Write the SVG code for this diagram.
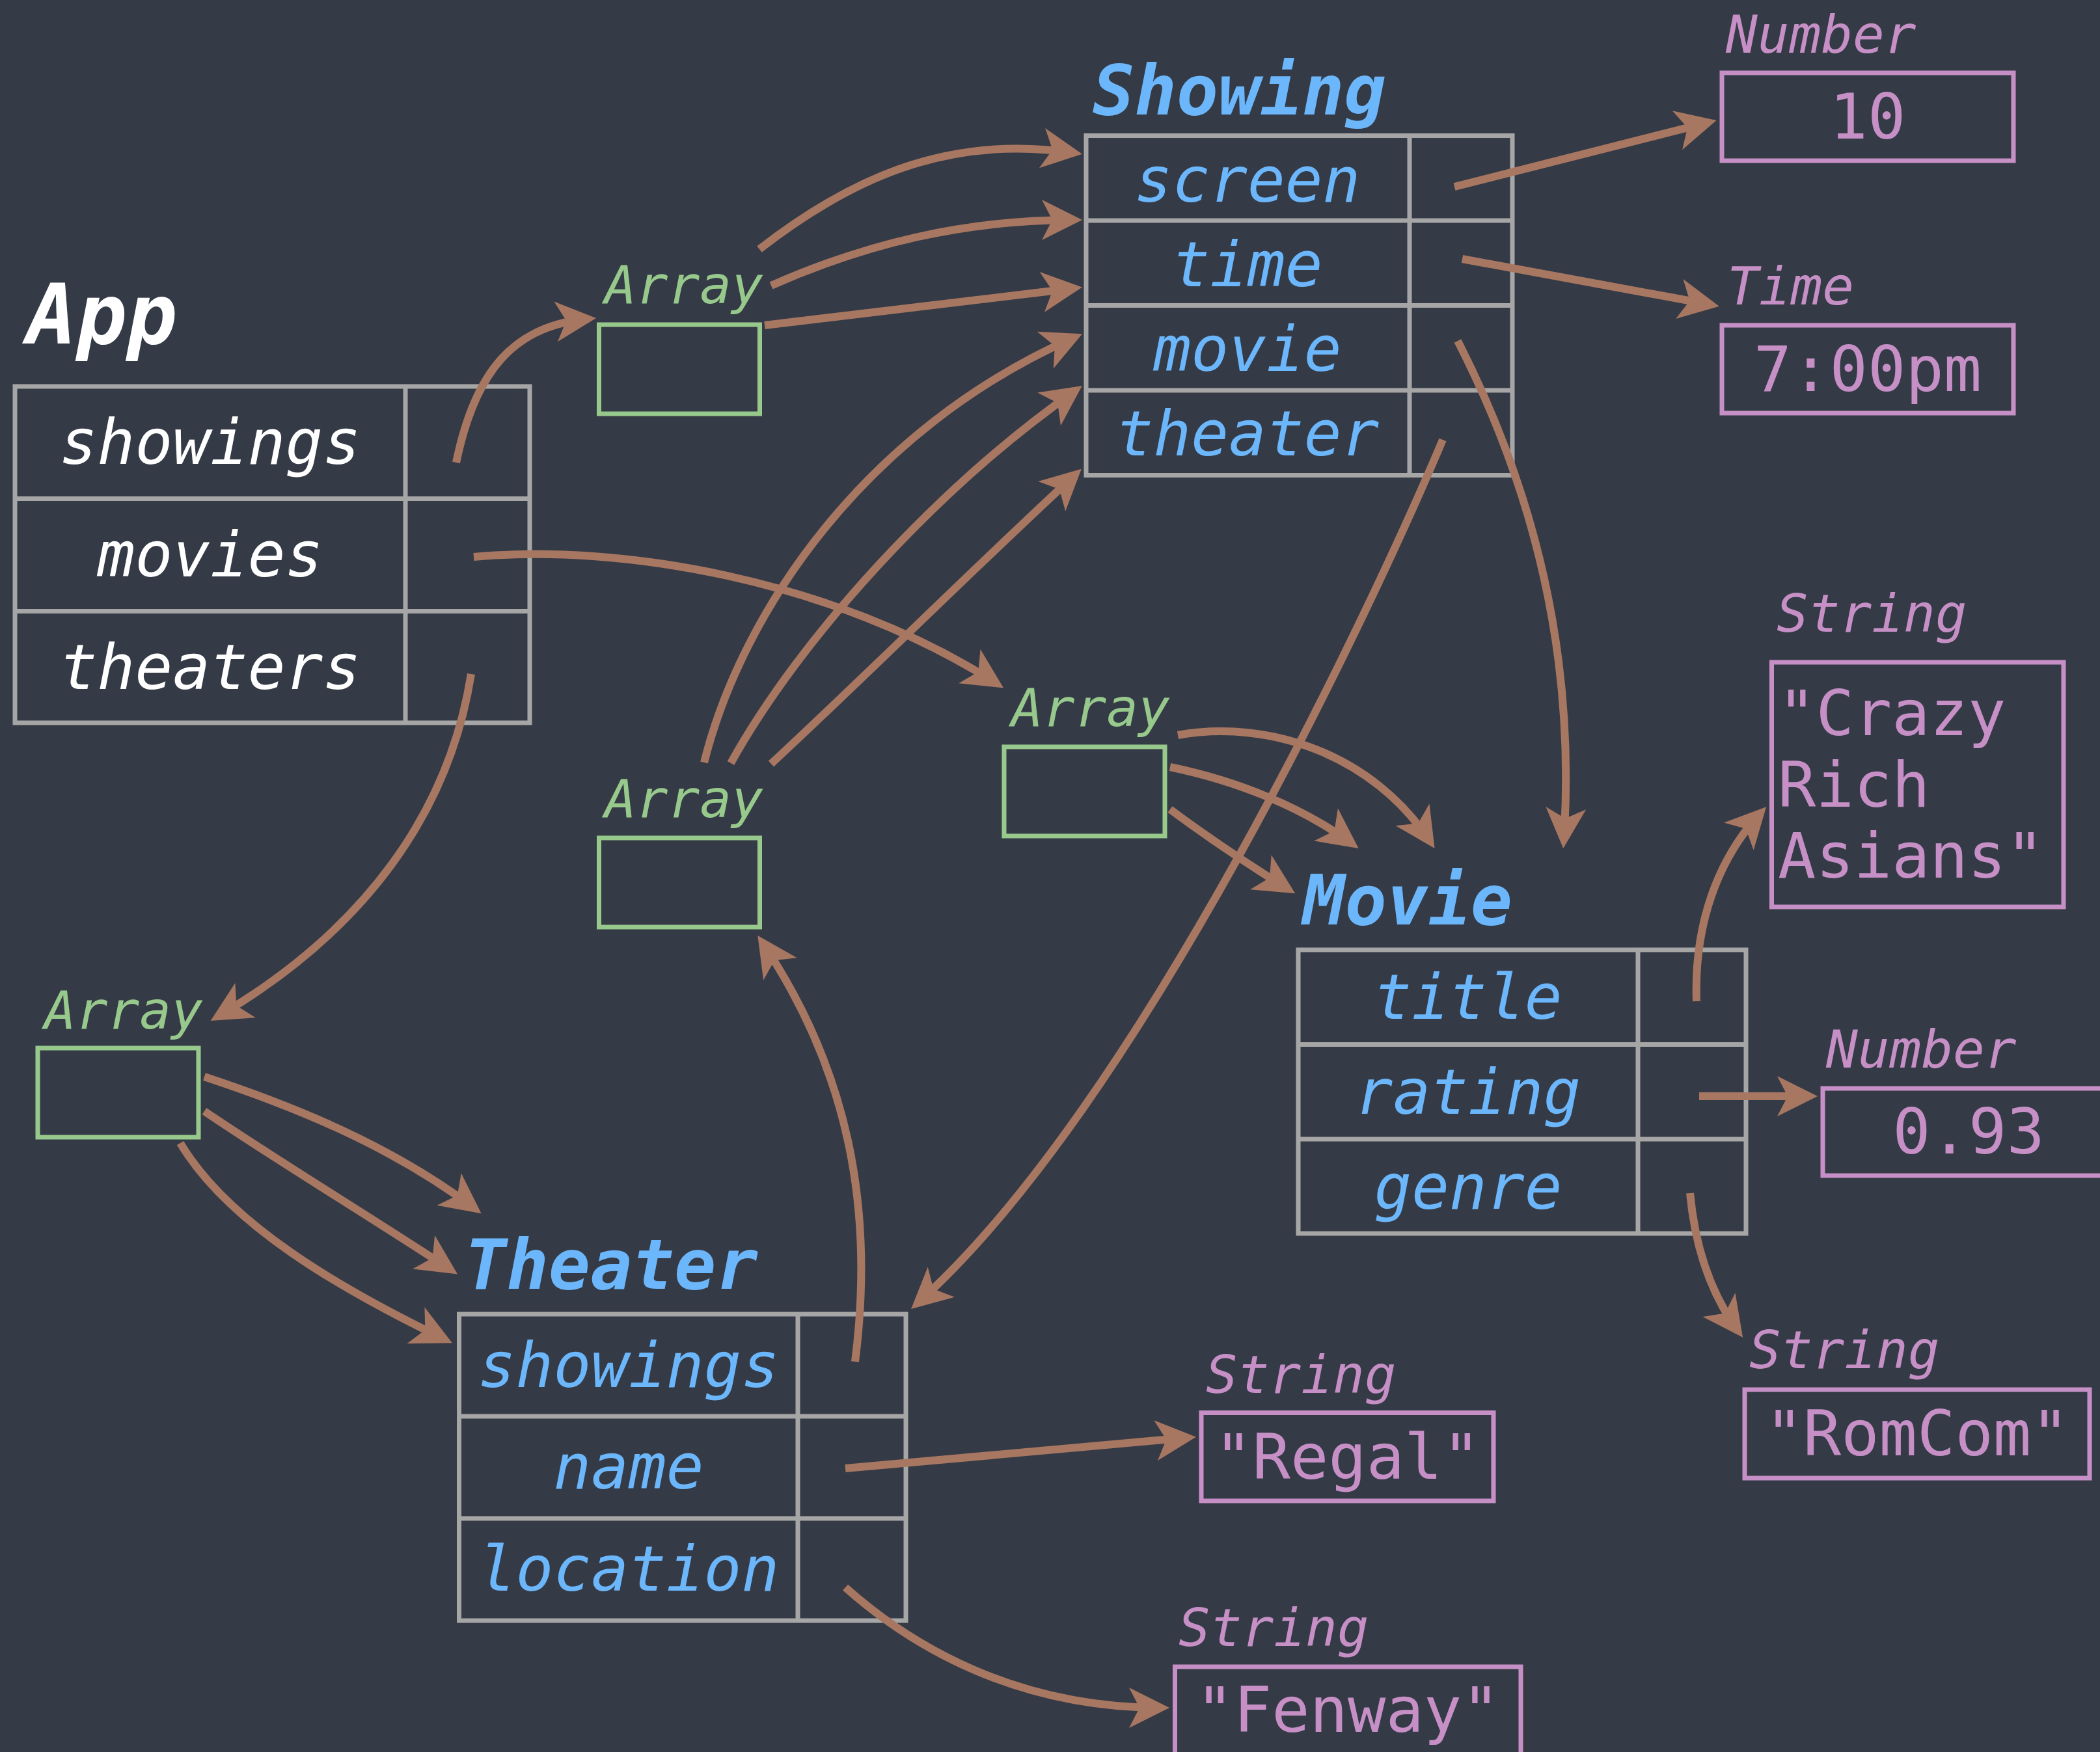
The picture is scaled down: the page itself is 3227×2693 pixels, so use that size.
<svg xmlns="http://www.w3.org/2000/svg" width="3227" height="2693" viewBox="0 0 3227 2693">
<style>
.bg{fill:#353b46}
.tbl{fill:none;stroke:#a6a6a6;stroke-width:7}
.arr{fill:none;stroke:#98c98c;stroke-width:7}
.val{fill:none;stroke:#c690c6;stroke-width:7}
.title{font-family:"DejaVu Sans Mono",monospace;font-style:italic;font-weight:bold;font-size:107px;fill:#6cb6fb}
.apptitle{font-family:"DejaVu Sans Mono",monospace;font-style:italic;font-weight:bold;font-size:128px;fill:#ffffff}
.fld{font-family:"DejaVu Sans Mono",monospace;font-style:italic;font-size:96px;fill:#6cb6fb;text-anchor:middle}
.appfld{font-family:"DejaVu Sans Mono",monospace;font-style:italic;font-size:96px;fill:#ffffff;text-anchor:middle}
.alabel{font-family:"DejaVu Sans Mono",monospace;font-style:italic;font-size:81px;fill:#98c98c}
.tlabel{font-family:"DejaVu Sans Mono",monospace;font-style:italic;font-size:81px;fill:#c690c6}
.vtxt{font-family:"DejaVu Sans Mono",monospace;font-size:97px;fill:#c690c6}
.c{text-anchor:middle}
.edge{fill:none;stroke:#a87762;stroke-width:12;marker-end:url(#ah)}
</style>
<defs>
<marker id="ah" markerUnits="userSpaceOnUse" markerWidth="80" markerHeight="80" viewBox="-60 -40 80 80" refX="0" refY="0" orient="auto" overflow="visible">
<path d="M12,0 L-50,-31 L-34,0 L-50,31 Z" fill="#a87762"/>
</marker>
</defs>
<rect class="bg" x="0" y="0" width="3227" height="2693"/>

<g id="app">
<text class="apptitle" x="41" y="528">App</text>
<rect class="tbl" x="23" y="594" width="791" height="517"/>
<line class="tbl" x1="623" y1="594" x2="623" y2="1111"/>
<line class="tbl" x1="23" y1="766.5" x2="814" y2="766.5"/>
<line class="tbl" x1="23" y1="939.5" x2="814" y2="939.5"/>
<text class="appfld" x="323" y="713">showings</text>
<text class="appfld" x="323" y="886">movies</text>
<text class="appfld" x="323" y="1059">theaters</text>
</g>

<g id="showing">
<text class="title" x="1679" y="176">Showing</text>
<rect class="tbl" x="1669" y="208.5" width="655" height="522"/>
<line class="tbl" x1="2166" y1="208.5" x2="2166" y2="730.5"/>
<line class="tbl" x1="1669" y1="339" x2="2324" y2="339"/>
<line class="tbl" x1="1669" y1="469.5" x2="2324" y2="469.5"/>
<line class="tbl" x1="1669" y1="600" x2="2324" y2="600"/>
<text class="fld" x="1917" y="310">screen</text>
<text class="fld" x="1917" y="440">time</text>
<text class="fld" x="1917" y="570">movie</text>
<text class="fld" x="1917" y="700">theater</text>
</g>

<g id="movie">
<text class="title" x="2002" y="1421">Movie</text>
<rect class="tbl" x="1995" y="1460" width="688" height="436"/>
<line class="tbl" x1="2517" y1="1460" x2="2517" y2="1896"/>
<line class="tbl" x1="1995" y1="1605.5" x2="2683" y2="1605.5"/>
<line class="tbl" x1="1995" y1="1751" x2="2683" y2="1751"/>
<text class="fld" x="2256" y="1566">title</text>
<text class="fld" x="2256" y="1712">rating</text>
<text class="fld" x="2256" y="1858">genre</text>
</g>

<g id="theater">
<text class="title" x="714" y="1981">Theater</text>
<rect class="tbl" x="705.5" y="2020" width="686.5" height="471"/>
<line class="tbl" x1="1226" y1="2020" x2="1226" y2="2491"/>
<line class="tbl" x1="705.5" y1="2177" x2="1392" y2="2177"/>
<line class="tbl" x1="705.5" y1="2334" x2="1392" y2="2334"/>
<text class="fld" x="966" y="2132">showings</text>
<text class="fld" x="966" y="2288">name</text>
<text class="fld" x="966" y="2445">location</text>
</g>

<g id="array-showings">
<text class="alabel" x="929" y="466">Array</text>
<rect class="arr" x="920.5" y="499" width="247" height="137"/>
</g>
<g id="array-theater-showings">
<text class="alabel" x="929" y="1256">Array</text>
<rect class="arr" x="920.5" y="1288" width="247" height="137"/>
</g>
<g id="array-movies">
<text class="alabel" x="1554" y="1116">Array</text>
<rect class="arr" x="1543" y="1148" width="247" height="137"/>
</g>
<g id="array-theaters">
<text class="alabel" x="68" y="1581">Array</text>
<rect class="arr" x="58" y="1611" width="247" height="137"/>
</g>

<g id="num-10">
<text class="tlabel" x="2652" y="81">Number</text>
<rect class="val" x="2646" y="112" width="448" height="135"/>
<text class="vtxt c" x="2870" y="213">10</text>
</g>
<g id="time-700">
<text class="tlabel" x="2654" y="468">Time</text>
<rect class="val" x="2646" y="500" width="448" height="135"/>
<text class="vtxt c" x="2870" y="601">7:00pm</text>
</g>
<g id="str-crazy">
<text class="tlabel" x="2730" y="971">String</text>
<rect class="val" x="2722.5" y="1018" width="448.5" height="376"/>
<text class="vtxt" x="2732" y="1130">"Crazy</text>
<text class="vtxt" x="2732" y="1240">Rich</text>
<text class="vtxt" x="2732" y="1349">Asians"</text>
</g>
<g id="num-093">
<text class="tlabel" x="2806" y="1641">Number</text>
<rect class="val" x="2801" y="1673" width="448" height="134"/>
<text class="vtxt c" x="3025" y="1773">0.93</text>
</g>
<g id="str-romcom">
<text class="tlabel" x="2688" y="2103">String</text>
<rect class="val" x="2681" y="2136" width="530" height="136"/>
<text class="vtxt c" x="2946" y="2237">"RomCom"</text>
</g>
<g id="str-regal">
<text class="tlabel" x="1853" y="2141">String</text>
<rect class="val" x="1846" y="2171.5" width="449" height="135.5"/>
<text class="vtxt c" x="2070.5" y="2273">"Regal"</text>
</g>
<g id="str-fenway">
<text class="tlabel" x="1811" y="2530">String</text>
<rect class="val" x="1805.5" y="2562" width="531.5" height="136"/>
<text class="vtxt c" x="2071" y="2662">"Fenway"</text>
</g>

<g id="connectors">
<path class="edge" d="M701,711 C730,570 790,500 904,490"/>
<path class="edge" d="M728,856 C950,835 1280,890 1532,1051"/>
<path class="edge" d="M724,1036 C690,1250 560,1430 334,1563"/>
<path class="edge" d="M314,1655 C450,1700 600,1760 730,1858"/>
<path class="edge" d="M314,1708 C420,1780 560,1865 693,1952"/>
<path class="edge" d="M277,1757 C350,1880 520,1980 684,2059"/>
<path class="edge" d="M1167,383 C1300,280 1450,205 1651,235"/>
<path class="edge" d="M1185,439 C1330,375 1480,338 1651,338"/>
<path class="edge" d="M1175,500 C1330,482 1490,462 1651,443"/>
<path class="edge" d="M1082,1172 C1140,940 1330,660 1652,518"/>
<path class="edge" d="M1123,1173 C1230,980 1440,750 1653,600"/>
<path class="edge" d="M1185,1174 C1340,1030 1500,870 1653,729"/>
<path class="edge" d="M2235,287 L2626,188"/>
<path class="edge" d="M2247,398 L2630,468.5"/>
<path class="edge" d="M2240,524 C2330,700 2425,960 2403,1292"/>
<path class="edge" d="M2217,676 C2110,930 1750,1700 1409,2004"/>
<path class="edge" d="M1314,2093 C1345,1850 1300,1640 1171,1448"/>
<path class="edge" d="M1299,2257 L1826,2209.7"/>
<path class="edge" d="M1299,2440 C1400,2530 1560,2625 1785,2625"/>
<path class="edge" d="M1810,1130 C1950,1105 2110,1160 2198,1294"/>
<path class="edge" d="M1798,1179 C1900,1200 2000,1240 2078,1297"/>
<path class="edge" d="M1798,1244 C1860,1290 1920,1330 1980,1367"/>
<path class="edge" d="M2607,1539 C2603,1420 2640,1320 2706,1249"/>
<path class="edge" d="M2611,1685 L2781,1685"/>
<path class="edge" d="M2597,1834 C2605,1920 2630,1990 2671,2046"/>
</g>
</svg>
